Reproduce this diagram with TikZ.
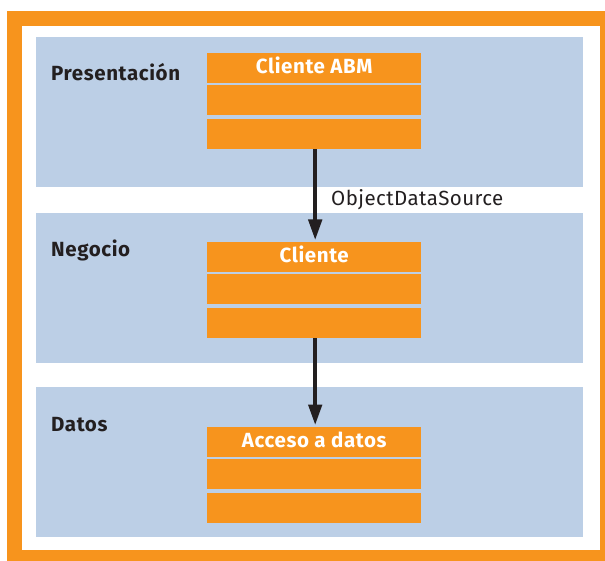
\documentclass[tikz,border=0pt]{standalone}
\usepackage{fontspec}
\setmainfont{Fira Sans}
\usetikzlibrary{arrows.meta}
\definecolor{frameorange}{HTML}{F7941D}
\definecolor{tierblue}{HTML}{BCCFE6}
\definecolor{ink}{HTML}{231F20}
\newcommand{\boldlabelfont}{\fontsize{20.5}{24}\selectfont\bfseries\addfontfeature{LetterSpace=3}}
\newcommand{\plainlabelfont}{\fontsize{20.5}{24}\selectfont\addfontfeature{LetterSpace=2}}
\begin{document}
\begin{tikzpicture}[x=1pt,y=-1pt,
  tier/.style={fill=tierblue, draw=none, inner sep=0pt, anchor=north west,
    minimum width=547pt, minimum height=150pt},
  tiername/.style={anchor=base west, inner sep=0pt, text=ink, font=\boldlabelfont},
  row/.style={fill=frameorange, draw=none, inner sep=0pt, anchor=north west,
    minimum width=214pt, minimum height=30pt},
  titlerow/.style={row, text=white, font=\boldlabelfont,
    text height=15pt, text depth=5pt},
  flow/.style={draw=ink, line width=4.5pt,
    -{Triangle[length=21pt,width=13pt]}, shorten >=1.5pt},
  flowlabel/.style={anchor=base west, inner sep=0pt, text=ink, font=\plainlabelfont}
]
\useasboundingbox (0,0) rectangle (605,561);
\clip (0,0) rectangle (605,561);
\fill[white] (0,0) rectangle (605,561);

% outer frame
\draw[frameorange, line width=15pt] (14.5,18.5) rectangle (607.5,557.5);

% tiers
\node[tier] (pres) at (36,37) {};
\node[tier] (neg)  at (36,213) {};
\node[tier] (dat)  at (36,387) {};

\node[tiername] (presname) at (51,81) {Presentación};
\node[tiername] (negname)  at (51,257) {Negocio};
\node[tiername] (datname)  at (51,431) {Datos};

% class boxes
\node[titlerow] (pres1) at (207,53) {Cliente ABM};
\node[row] (pres2) at (207,85) {};
\node[row] (pres3) at (207,119) {};

\node[titlerow] (neg1) at (207,242) {Cliente};
\node[row] (neg2) at (207,274) {};
\node[row] (neg3) at (207,308) {};

\node[titlerow] (dat1) at (207,427) {Acceso a datos};
\node[row] (dat2) at (207,459) {};
\node[row] (dat3) at (207,493) {};

% dependencies
\draw[flow] ([xshift=1pt]pres3.south) -- ([xshift=1pt]neg1.north);
\draw[flow] ([xshift=1pt]neg3.south) -- ([xshift=1pt]dat1.north);

\node[flowlabel] (odslabel) at (331,206) {ObjectDataSource};
\end{tikzpicture}
\end{document}
